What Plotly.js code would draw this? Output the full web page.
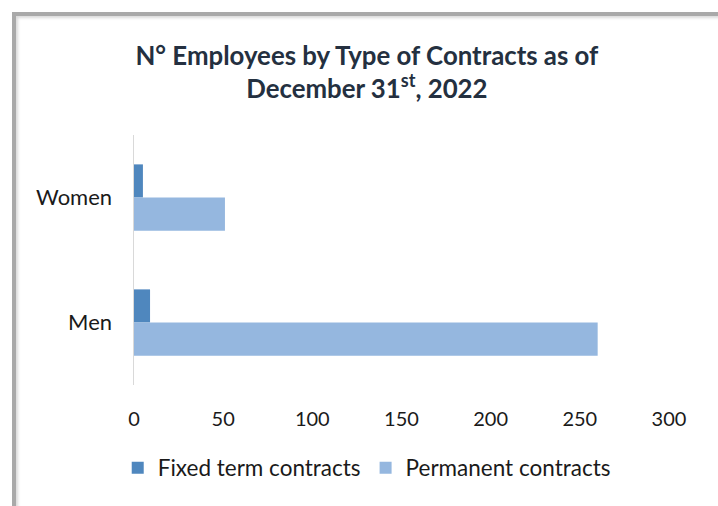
<!DOCTYPE html>
<html>
<head>
<meta charset="utf-8">
<script src="https://cdn.plot.ly/plotly-3.0.1.min.js"></script>
<style>
html,body{margin:0;padding:0;background:#fff;overflow:hidden;}
#chart{width:718px;height:506px;position:absolute;left:0;top:0;}
#frame{position:absolute;left:12px;top:12px;width:800px;height:600px;border-left:4px solid #a9a9a9;border-top:4px solid #a9a9a9;box-shadow:inset 2px 2px 3px rgba(0,0,0,0.15);pointer-events:none;}
</style>
</head>
<body>
<div id="chart"></div>
<div id="frame"></div>
<script>
var categories = ['Women', 'Men'];
var fixedTerm = [5, 9];
var permanent = [51, 260];
var seriesNames = ['Fixed term contracts', 'Permanent contracts'];
var xTicks = [0, 50, 100, 150, 200, 250, 300];

var font = 'Lato, "Open Sans", sans-serif';

var data = [
  {type: 'bar', orientation: 'h', name: seriesNames[0], y: categories, x: fixedTerm,
   marker: {color: '#4F87BE'}, hoverinfo: 'x+name'},
  {type: 'bar', orientation: 'h', name: seriesNames[1], y: categories, x: permanent,
   marker: {color: '#95B7DF'}, hoverinfo: 'x+name'}
];

var layout = {
  width: 718, height: 506,
  margin: {l: 134, r: 49, t: 135, b: 121},
  paper_bgcolor: '#fff', plot_bgcolor: '#fff',
  font: {family: font, color: '#1a1a1a', size: 18},
  title: {text: 'N° Employees by Type of Contracts as of<br>December 31<sup>st</sup>, 2022',
          font: {family: font, size: 25.8, color: '#243040', weight: 'bold'},
          x: 0.511, xanchor: 'center', y: 0.872, yanchor: 'top'},
  barmode: 'group', bargap: 0.47, bargroupgap: 0,
  xaxis: {range: [0, 300], tickvals: xTicks, ticktext: xTicks.map(String),
          showgrid: false, zeroline: false, showline: false, ticks: '',
          tickfont: {size: 20, color: '#1a1a1a'}, fixedrange: true, ticklabelstandoff: 20},
  yaxis: {autorange: 'reversed', showgrid: false, zeroline: false,
          showline: true, linecolor: '#d9d9d9', linewidth: 1.5, ticks: '',
          tickfont: {size: 22, color: '#1a1a1a'}, ticklabelstandoff: 16, fixedrange: true},
  showlegend: true,
  legend: {orientation: 'h', x: 0.435, xanchor: 'center', y: -0.332, yanchor: 'middle',
           font: {size: 22.5, color: '#1a1a1a'}, itemwidth: 30, traceorder: 'normal',
           bgcolor: 'rgba(0,0,0,0)'}
};

Plotly.newPlot('chart', data, layout, {displayModeBar: false, staticPlot: true});
</script>
</body>
</html>
